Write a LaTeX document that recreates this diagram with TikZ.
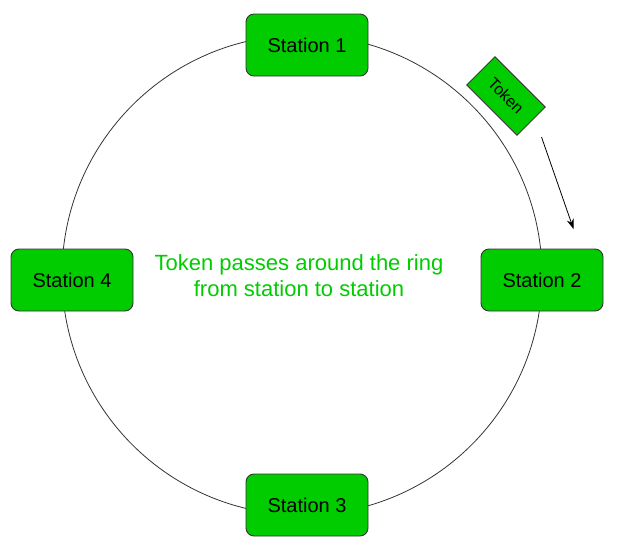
\documentclass[tikz,border=0pt]{standalone}
\usepackage{fontspec}
\setmainfont{Liberation Sans}
\usetikzlibrary{arrows.meta}
\definecolor{ringgreen}{HTML}{00CC00}
\definecolor{edgegrey}{HTML}{333333}
\tikzset{
	station/.style={draw=edgegrey, fill=ringgreen, rounded corners=8pt, line width=0.9pt,
		minimum width=122pt, minimum height=62pt, font=\fontsize{20}{24}\selectfont},
	tokenbox/.style={draw=edgegrey, fill=ringgreen, line width=0.9pt, rotate=-45,
		minimum width=71pt, minimum height=40pt, font=\fontsize{16}{19}\selectfont},
}
\begin{document}
\begin{tikzpicture}[x=1pt, y=-1pt]
			\useasboundingbox (0, 0) rectangle (641, 546);
			\draw[edgegrey, line width=0.8pt] (302, 275) circle (240pt);
			
			\node[station] (st1) at (307, 45) {Station 1};
			\node[station] (st2) at (542, 280) {Station 2};
			\node[station] (st3) at (307, 505) {Station 3};
			\node[station] (st4) at (72, 280) {Station 4};
			
			\node[tokenbox] (tok) at (506, 96) {Token};
			\coordinate (tokstart) at (541.5, 137);
			\coordinate (tokend) at (573.5, 229);
			\draw[line width=0.8pt, -{Stealth[length=10pt, width=7pt]}] (tokstart) -- (tokend);
			
			\node[text=ringgreen, align=center, font=\fontsize{22}{26}\selectfont] (caption) at (299, 276)
				{Token passes around the ring\\from station to station};
		\end{tikzpicture}
\end{document}
